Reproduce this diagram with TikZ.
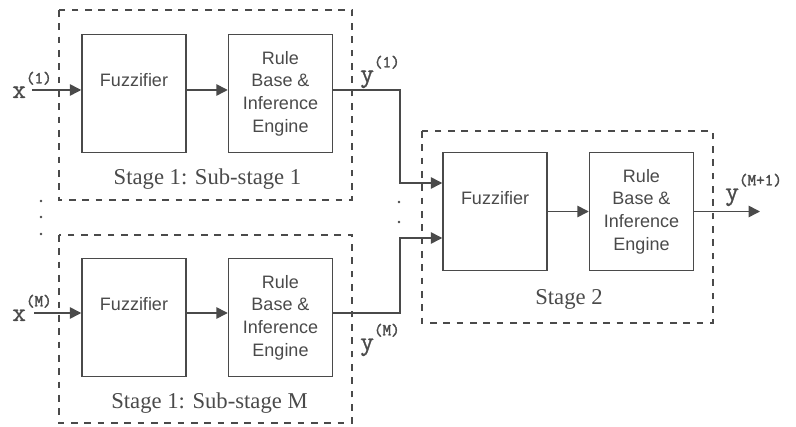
\documentclass[tikz,border=0pt]{standalone}
\usepackage{fontspec}
\setmainfont{Liberation Serif}
\newfontfamily\boxfont{Liberation Sans}
\newfontfamily\iofont[FakeBold=1]{Latin Modern Mono}
\newfontfamily\supfont[FakeBold=2]{Latin Modern Mono}
\usetikzlibrary{arrows.meta}
\definecolor{ink}{HTML}{4A4A4A}
\newcommand\iolabel[2]{{\iofont\fontsize{20}{20}\selectfont #1}\raisebox{11pt}{\supfont\fontsize{12.5}{12.5}\selectfont(#2)}}

\begin{document}
\begin{tikzpicture}[x=0.75pt,y=-0.75pt,line join=miter,
  every node/.style={inner sep=0pt,text=ink},
  blk/.style={draw=ink,line width=1.1pt,minimum width=78pt,minimum height=88.5pt,align=center,
    font=\boxfont\fontsize{13.5}{17}\selectfont},
  boxtxt/.style={font=\boxfont\fontsize{13.5}{17}\selectfont},
  stagebox/.style={draw=ink,line width=1pt,dash pattern=on 5pt off 5pt},
  stagelab/.style={anchor=base,font=\fontsize{17}{17}\selectfont},
  iolab/.style={anchor=base west},
  arr/.style={draw=ink,line width=1.1pt,-{Triangle[length=8.5pt,width=8.5pt]}}]
  \useasboundingbox (0,0) rectangle (796,427);
  % stage 1, sub-stage 1
  \draw[stagebox] (59,10) rectangle (352,200);
  \node[blk] (f1) at (134,93.5) {};
  \node[boxtxt] (f1t) at ([yshift=9.75pt]f1.center) {Fuzzifier};
  \node[blk] (r1) at (280.5,93.5) {Rule\\Base \&\\Inference\\Engine};
  \node[stagelab] (s1) at (207.5,185) {Stage 1: Sub-stage 1};
  % stage 1, sub-stage M
  \draw[stagebox] (59,235) rectangle (352,423);
  \node[blk] (f2) at (134,317.5) {};
  \node[boxtxt] (f2t) at ([yshift=9.75pt]f2.center) {Fuzzifier};
  \node[blk] (r2) at (280.5,317.5) {Rule\\Base \&\\Inference\\Engine};
  \node[stagelab] (s2) at (209.5,408) {Stage 1: Sub-stage M};
  % stage 2
  \draw[stagebox] (422,131) rectangle (713,323);
  \node[blk] (f3) at (495,211.5) {};
  \node[boxtxt] (f3t) at ([yshift=9.75pt]f3.center) {Fuzzifier};
  \node[blk] (r3) at (641.5,211.5) {Rule\\Base \&\\Inference\\Engine};
  \node[stagelab] (s3) at (569,305) {Stage 2};
  % inputs and outputs
  \node[iolab] (x1) at (12,98) {\iolabel{x}{1}};
  \node[iolab] (xm) at (12,321) {\iolabel{x}{M}};
  \node[iolab] (y1) at (360,82) {\iolabel{y}{1}};
  \node[iolab] (ym) at (360,350) {\iolabel{y}{M}};
  \node[iolab] (yo) at (725,200) {\iolabel{y}{M+1}};
  \coordinate (in1) at (32,90);
  \coordinate (in2) at (34,313);
  \coordinate (j1) at (400,183);
  \coordinate (j2) at (400,238);
  \coordinate (out) at (760,211.5);
  \draw[arr] (in1) -- (f1.west |- in1);
  \draw[arr] (f1.east |- in1) -- (r1.west |- in1);
  \draw[arr] (r1.east |- in1) -| (j1) -- (f3.west |- j1);
  \draw[arr] (in2) -- (f2.west |- in2);
  \draw[arr] (f2.east |- in2) -- (r2.west |- in2);
  \draw[arr] (r2.east |- in2) -| (j2) -- (f3.west |- j2);
  \draw[arr] (f3) -- (r3);
  \draw[arr] (r3) -- (out);
  % vertical dots
  \foreach \y in {201,217,234} {
    \fill[ink] (41,\y) circle[radius=1pt];
  }
  \foreach \y in {202,222} {
    \fill[ink] (399,\y) circle[radius=1pt];
  }
\end{tikzpicture}
\end{document}
